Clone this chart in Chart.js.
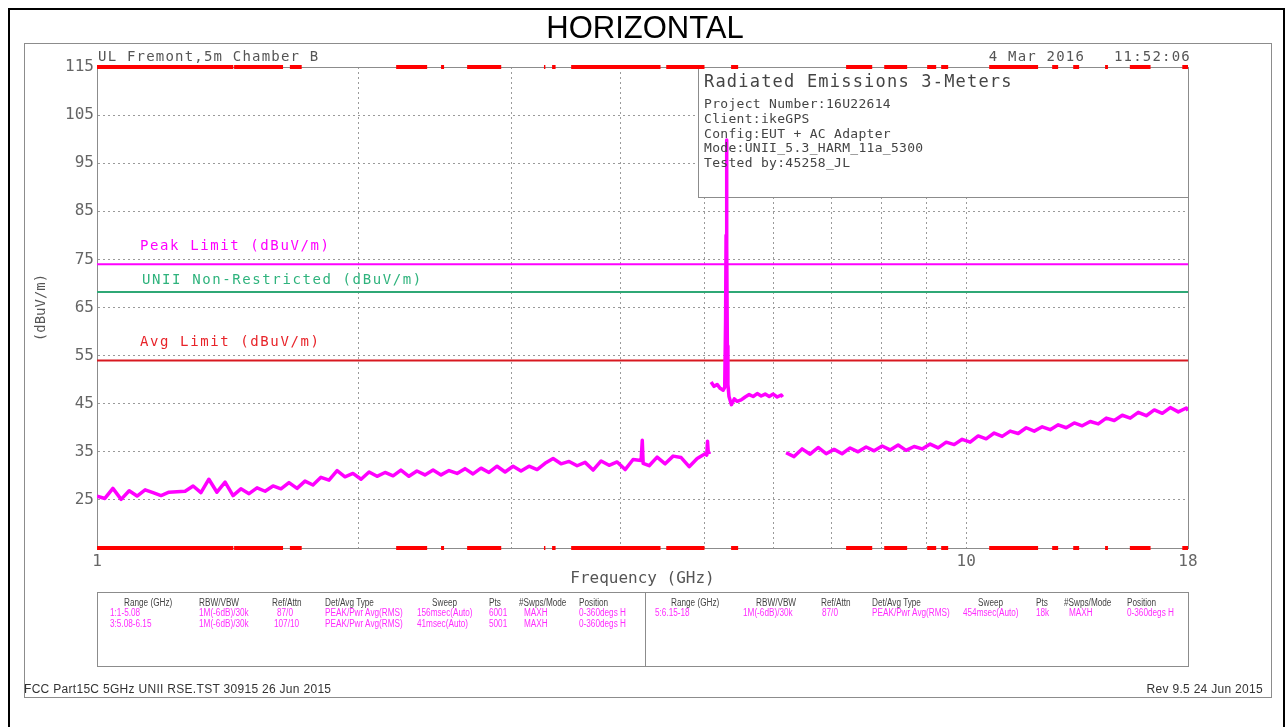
<!DOCTYPE html>
<html lang="en">

<head>
    <meta charset="UTF-8">
    <title>HORIZONTAL</title>
    <script src="https://cdn.jsdelivr.net/npm/chart.js@4.4.1/dist/chart.umd.min.js"></script>
    <style>
        body { margin: 0; background: #fff; }
        #page { position: relative; width: 1285px; height: 727px; overflow: hidden; }
        #page canvas { position: absolute; left: 0; top: 0; }
        .box { position: absolute; box-sizing: border-box; }
        .t { position: absolute; white-space: pre; line-height: 1; font-family: 'DejaVu Sans Mono', monospace; color: #555; }
        .n { position: absolute; white-space: pre; line-height: 1; font-family: 'Liberation Sans', sans-serif; font-size: 10px;
             transform: scaleX(0.82); transform-origin: left center; }
        .hd { color: #444; }
        .mg { color: #ff2cff; }
        .ft { position: absolute; white-space: pre; line-height: 1; font-family: 'Liberation Sans', sans-serif;
              font-size: 12px; letter-spacing: 0.3px; color: #333; }
    </style>
</head>

<body>
    <div id="page">
        <!-- frames -->
        <div class="box" style="left:8px;top:8px;width:1277px;height:740px;border:2px solid #000;"></div>
        <div class="box" style="left:24px;top:43px;width:1248px;height:655px;border:1px solid #8c8c8c;"></div>
        <div class="box" style="left:97px;top:592px;width:1092px;height:75px;border:1px solid #8c8c8c;"></div>
        <div class="box" style="left:645px;top:592px;width:1px;height:75px;background:#8c8c8c;"></div>

        <canvas id="emiChart" width="1285" height="727"></canvas>

        <!-- title and header -->
        <div class="t" style="left:0;width:1290px;text-align:center;top:12px;font-family:'Liberation Sans',Arial,sans-serif;font-size:31px;color:#000;">HORIZONTAL</div>
        <div class="t" style="left:98px;top:49px;font-size:14px;letter-spacing:1.2px;">UL Fremont,5m Chamber B</div>
        <div class="t" style="right:94px;top:49px;font-size:14px;letter-spacing:1.2px;">4 Mar 2016   11:52:06</div>

        <!-- info box text -->
        <div class="t" style="left:704px;top:73px;font-size:17px;letter-spacing:1.2px;color:#444;">Radiated Emissions 3-Meters</div>
        <div class="t" style="left:704px;top:97px;font-size:13px;letter-spacing:0.3px;line-height:14.8px;color:#444;">Project Number:16U22614
Client:ikeGPS
Config:EUT + AC Adapter
Mode:UNII_5.3_HARM_11a_5300
Tested by:45258_JL</div>

        <!-- limit labels -->
        <div class="t" style="left:140px;top:238px;font-size:14px;letter-spacing:1.6px;color:#ff00ff;">Peak Limit (dBuV/m)</div>
        <div class="t" style="left:142px;top:272px;font-size:14px;letter-spacing:1.6px;color:#2fb37d;">UNII Non-Restricted (dBuV/m)</div>
        <div class="t" style="left:140px;top:334px;font-size:14px;letter-spacing:1.6px;color:#e8242a;">Avg Limit (dBuV/m)</div>

        <!-- sweep table, left half -->
        <div class="n hd" style="left:124px;top:598px;">Range (GHz)</div>
        <div class="n hd" style="left:199px;top:598px;">RBW/VBW</div>
        <div class="n hd" style="left:272px;top:598px;">Ref/Attn</div>
        <div class="n hd" style="left:325px;top:598px;">Det/Avg Type</div>
        <div class="n hd" style="left:432px;top:598px;">Sweep</div>
        <div class="n hd" style="left:489px;top:598px;">Pts</div>
        <div class="n hd" style="left:519px;top:598px;">#Swps/Mode</div>
        <div class="n hd" style="left:579px;top:598px;">Position</div>

        <div class="n mg" style="left:110px;top:608px;">1:1-5.08</div>
        <div class="n mg" style="left:199px;top:608px;">1M(-6dB)/30k</div>
        <div class="n mg" style="left:277px;top:608px;">87/0</div>
        <div class="n mg" style="left:325px;top:608px;">PEAK/Pwr Avg(RMS)</div>
        <div class="n mg" style="left:417px;top:608px;">156msec(Auto)</div>
        <div class="n mg" style="left:489px;top:608px;">6001</div>
        <div class="n mg" style="left:524px;top:608px;">MAXH</div>
        <div class="n mg" style="left:579px;top:608px;">0-360degs H</div>

        <div class="n mg" style="left:110px;top:619px;">3:5.08-6.15</div>
        <div class="n mg" style="left:199px;top:619px;">1M(-6dB)/30k</div>
        <div class="n mg" style="left:274px;top:619px;">107/10</div>
        <div class="n mg" style="left:325px;top:619px;">PEAK/Pwr Avg(RMS)</div>
        <div class="n mg" style="left:417px;top:619px;">41msec(Auto)</div>
        <div class="n mg" style="left:489px;top:619px;">5001</div>
        <div class="n mg" style="left:524px;top:619px;">MAXH</div>
        <div class="n mg" style="left:579px;top:619px;">0-360degs H</div>

        <!-- sweep table, right half -->
        <div class="n hd" style="left:671px;top:598px;">Range (GHz)</div>
        <div class="n hd" style="left:756px;top:598px;">RBW/VBW</div>
        <div class="n hd" style="left:821px;top:598px;">Ref/Attn</div>
        <div class="n hd" style="left:872px;top:598px;">Det/Avg Type</div>
        <div class="n hd" style="left:978px;top:598px;">Sweep</div>
        <div class="n hd" style="left:1036px;top:598px;">Pts</div>
        <div class="n hd" style="left:1064px;top:598px;">#Swps/Mode</div>
        <div class="n hd" style="left:1127px;top:598px;">Position</div>

        <div class="n mg" style="left:655px;top:608px;">5:6.15-18</div>
        <div class="n mg" style="left:743px;top:608px;">1M(-6dB)/30k</div>
        <div class="n mg" style="left:822px;top:608px;">87/0</div>
        <div class="n mg" style="left:872px;top:608px;">PEAK/Pwr Avg(RMS)</div>
        <div class="n mg" style="left:963px;top:608px;">454msec(Auto)</div>
        <div class="n mg" style="left:1036px;top:608px;">18k</div>
        <div class="n mg" style="left:1069px;top:608px;">MAXH</div>
        <div class="n mg" style="left:1127px;top:608px;">0-360degs H</div>

        <!-- footer -->
        <div class="ft" style="left:24px;top:683px;">FCC Part15C 5GHz UNII RSE.TST 30915 26 Jun 2015</div>
        <div class="ft" style="right:22px;top:683px;">Rev 9.5 24 Jun 2015</div>
    </div>

    <script>
        // sweep 1 (1 - 5.08 GHz): frequency in GHz, level in dBuV/m
        const freqLow = [1.000, 1.021, 1.043, 1.066, 1.089, 1.112, 1.136, 1.160, 1.185, 1.210,
            1.236, 1.263, 1.290, 1.317, 1.345, 1.374, 1.404, 1.434, 1.464, 1.496,
            1.528, 1.561, 1.594, 1.628, 1.663, 1.699, 1.735, 1.772, 1.810, 1.849,
            1.889, 1.929, 1.970, 2.013, 2.056, 2.100, 2.145, 2.191, 2.237, 2.285,
            2.334, 2.384, 2.436, 2.488, 2.541, 2.596, 2.651, 2.708, 2.766, 2.825,
            2.886, 2.948, 3.011, 3.075, 3.141, 3.209, 3.277, 3.348, 3.419, 3.493,
            3.568, 3.644, 3.722, 3.802, 3.883, 3.967, 4.052, 4.138, 4.227, 4.240,
            4.250, 4.318, 4.410, 4.505, 4.601, 4.700, 4.801, 4.904, 5.009, 5.030,
            5.040, 5.050, 5.080];
        const levelLow = [25.8, 25.3, 27.4, 25.1, 26.9, 25.8, 27.1, 26.5, 25.9, 26.6,
            26.7, 26.8, 27.9, 26.5, 29.3, 26.6, 28.7, 25.9, 27.3, 26.3,
            27.5, 26.8, 27.9, 27.3, 28.6, 27.4, 28.9, 28.1, 29.7, 29.1,
            31.1, 29.8, 30.5, 29.3, 30.8, 29.9, 30.7, 30.0, 31.2, 29.9,
            31.0, 30.2, 31.2, 30.2, 31.1, 30.5, 31.5, 30.4, 31.6, 30.7,
            32.0, 30.8, 32.0, 31.0, 32.0, 31.3, 32.6, 33.6, 32.5, 33.0,
            32.1, 32.8, 31.2, 33.1, 32.2, 32.9, 31.3, 33.4, 33.2, 37.4,
            32.6, 32.1, 33.9, 32.5, 34.1, 33.8, 31.9, 33.6, 34.6, 34.3,
            37.2, 34.8, 35.0];

        // sweep 3 (5.08 - 6.15 GHz), carrier at 5.3 GHz
        const freqMid = [5.088, 5.129, 5.170, 5.212, 5.253, 5.275, 5.287, 5.294, 5.300, 5.306,
            5.312, 5.320, 5.335, 5.370, 5.410, 5.452, 5.510, 5.569, 5.628, 5.688,
            5.749, 5.810, 5.872, 5.935, 5.998, 6.062, 6.127, 6.150];
        const levelMid = [49.5, 48.6, 49.0, 48.2, 47.8, 48.4, 62.0, 80.0, 99.8, 78.0,
            57.0, 49.0, 46.5, 44.8, 46.0, 45.5, 45.8, 46.4, 46.9, 46.5,
            47.1, 46.6, 47.0, 46.5, 47.0, 46.4, 46.8, 46.4];

        // sweep 5 (6.15 - 18 GHz)
        const freqHigh = [6.206, 6.339, 6.475, 6.614, 6.756, 6.901, 7.048, 7.199, 7.354, 7.511,
            7.672, 7.837, 8.005, 8.176, 8.351, 8.530, 8.713, 8.900, 9.091, 9.286,
            9.485, 9.688, 9.895, 10.107, 10.324, 10.545, 10.771, 11.002, 11.238, 11.479,
            11.725, 11.976, 12.233, 12.495, 12.763, 13.036, 13.316, 13.601, 13.893, 14.191,
            14.495, 14.806, 15.123, 15.447, 15.778, 16.117, 16.462, 16.815, 17.175, 17.543,
            17.920, 18.000];
        const levelHigh = [34.8, 34.0, 35.6, 34.5, 35.9, 34.6, 35.5, 34.6, 35.8, 35.0,
            36.0, 35.2, 36.2, 35.4, 36.4, 35.3, 36.1, 35.6, 36.6, 35.8,
            37.0, 36.5, 37.6, 37.0, 38.3, 37.7, 38.9, 38.2, 39.3, 38.8,
            40.0, 39.3, 40.2, 39.6, 40.6, 40.0, 41.0, 40.4, 41.3, 40.8,
            42.0, 41.5, 42.6, 42.0, 43.2, 42.5, 43.7, 43.0, 44.2, 43.3,
            44.1, 43.6];

        // limit lines (dBuV/m)
        const peakLimit = 74;
        const uniiLimit = 68.2;
        const avgLimit = 54;

        // red marker spans along top and bottom edges (GHz)
        const flagSpans = [[1.000, 1.435], [1.438, 1.637], [1.650, 1.654], [1.667, 1.720],
            [2.209, 2.398], [2.488, 2.508], [2.666, 2.918], [3.268, 3.280], [3.339, 3.370],
            [3.512, 4.450], [4.518, 5.000], [5.365, 5.466], [7.276, 7.797], [8.049, 8.553],
            [9.019, 9.237], [9.360, 9.535], [10.63, 12.10], [12.56, 12.76], [13.28, 13.49],
            [14.45, 14.56], [15.43, 16.30], [17.73, 18.00]];

        // axes
        const xTicks = [1, 2, 3, 4, 5, 6, 7, 8, 9, 10, 18];
        const xLabels = [1, 10, 18];
        const yTicks = [15, 25, 35, 45, 55, 65, 75, 85, 95, 105, 115];
        const yMin = 15, yMax = 115;

        const toPts = (xs, ys) => xs.map((x, i) => ({ x: x, y: ys[i] }));
        const limitPts = v => [{ x: 1, y: v }, { x: 18, y: v }];
        const flagPts = lvl => {
            const out = [];
            flagSpans.forEach(s => out.push({ x: s[0], y: lvl }, { x: s[1], y: lvl }, { x: s[1], y: null }));
            return out;
        };

        const traceStyle = {
            borderColor: '#ff00ff', borderWidth: 3.5, pointRadius: 0, tension: 0,
            borderJoinStyle: 'round', fill: false, order: 1
        };
        const limitStyle = { borderWidth: 2, pointRadius: 0, fill: false, order: 2 };
        const flagStyle = {
            borderColor: '#ff0000', borderWidth: 4, pointRadius: 0, borderCapStyle: 'butt',
            spanGaps: false, fill: false, clip: false, order: 0
        };

        // info box and solid plot frame, drawn under the traces
        const framePlugin = {
            id: 'framePlugin',
            beforeDatasetsDraw(chart) {
                const { ctx, chartArea: a } = chart;
                ctx.save();
                ctx.fillStyle = '#fff';
                ctx.fillRect(698, a.top, a.right - 698, 130);
                ctx.strokeStyle = '#8c8c8c';
                ctx.lineWidth = 1;
                ctx.strokeRect(698.5, a.top + 0.5, a.right - 698, 130);
                ctx.strokeRect(a.left + 0.5, a.top + 0.5, a.right - a.left, a.bottom - a.top);
                ctx.restore();
            }
        };

        const tickFont = { family: 'DejaVu Sans Mono', size: 16 };

        new Chart(document.getElementById('emiChart'), {
            type: 'line',
            data: {
                datasets: [
                    Object.assign({ data: flagPts(yMax) }, flagStyle),
                    Object.assign({ data: flagPts(yMin) }, flagStyle),
                    Object.assign({ data: toPts(freqLow, levelLow) }, traceStyle),
                    Object.assign({ data: toPts(freqMid, levelMid) }, traceStyle),
                    Object.assign({ data: toPts(freqHigh, levelHigh) }, traceStyle),
                    Object.assign({ data: limitPts(peakLimit), borderColor: '#ff00ff' }, limitStyle),
                    Object.assign({ data: limitPts(uniiLimit), borderColor: '#2fa876' }, limitStyle),
                    Object.assign({ data: limitPts(avgLimit), borderColor: '#d81820' }, limitStyle)
                ]
            },
            options: {
                responsive: false,
                animation: false,
                devicePixelRatio: 1,
                events: [],
                layout: { padding: { left: 0, right: 97, top: 67, bottom: 134 } },
                plugins: { legend: { display: false }, tooltip: { enabled: false } },
                scales: {
                    x: {
                        type: 'logarithmic',
                        min: 1,
                        max: 18,
                        afterBuildTicks: s => { s.ticks = xTicks.map(v => ({ value: v })); },
                        afterFit: s => { s.height = 45; },
                        ticks: {
                            autoSkip: false, maxRotation: 0, padding: 4,
                            color: '#666', font: tickFont,
                            callback: v => xLabels.includes(v) ? String(v) : ''
                        },
                        grid: { color: '#9a9a9a', lineWidth: 1, drawTicks: false },
                        border: { color: '#8c8c8c', dash: [2, 3] },
                        title: {
                            display: true, text: 'Frequency (GHz)', color: '#555',
                            font: { family: 'DejaVu Sans Mono', size: 16 }, padding: { top: 0, bottom: 5 }
                        }
                    },
                    y: {
                        type: 'linear',
                        min: yMin,
                        max: yMax,
                        afterBuildTicks: s => { s.ticks = yTicks.map(v => ({ value: v })); },
                        afterFit: s => { s.width = 97; },
                        ticks: {
                            padding: 3, color: '#666', font: tickFont,
                            callback: v => v === yMin ? '' : String(v)
                        },
                        grid: { color: '#9a9a9a', lineWidth: 1, drawTicks: false },
                        border: { color: '#8c8c8c', dash: [2, 3] },
                        title: {
                            display: true, text: '(dBuV/m)', color: '#555',
                            font: { family: 'DejaVu Sans Mono', size: 14 }, padding: { top: 33, bottom: 0 }
                        }
                    }
                }
            },
            plugins: [framePlugin]
        });
    </script>
</body>

</html>
